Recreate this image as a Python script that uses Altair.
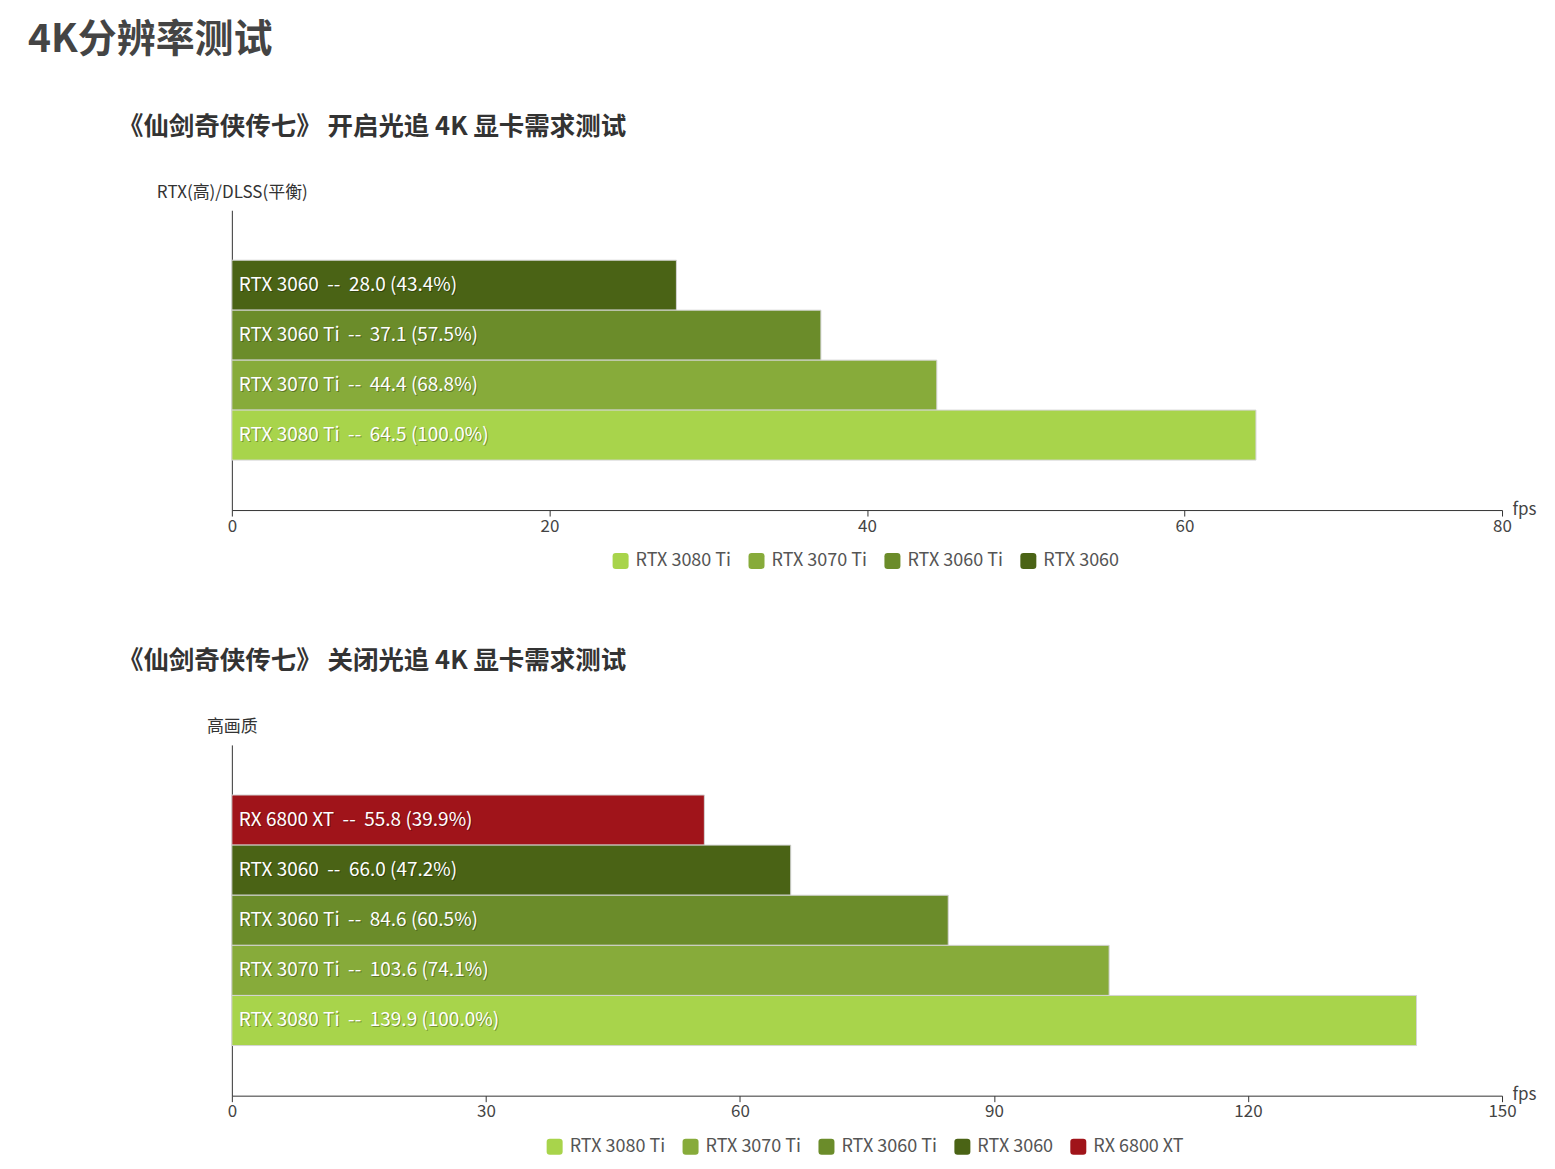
import altair as alt
import pandas as pd

# 开启光追 (RTX on, DLSS balanced), top to bottom
gpus_rt = ["RTX 3060", "RTX 3060 Ti", "RTX 3070 Ti", "RTX 3080 Ti"]
fps_rt = [28.0, 37.1, 44.4, 64.5]

# 关闭光追 (high quality), top to bottom
gpus_raster = ["RX 6800 XT", "RTX 3060", "RTX 3060 Ti", "RTX 3070 Ti", "RTX 3080 Ti"]
fps_raster = [55.8, 66.0, 84.6, 103.6, 139.9]

legend_order = ["RTX 3080 Ti", "RTX 3070 Ti", "RTX 3060 Ti", "RTX 3060", "RX 6800 XT"]
legend_colors = ["#a8d44b", "#87ab3a", "#6b8c2a", "#4a6315", "#a0141a"]

ticks_rt = [0, 20, 40, 60, 80]
ticks_raster = [0, 30, 60, 90, 120, 150]

FONT = "Noto Sans CJK SC"
ROUNDED = "M-1,-0.6Q-1,-1,-0.6,-1L0.6,-1Q1,-1,1,-0.6L1,0.6Q1,1,0.6,1L-0.6,1Q-1,1,-1,0.6Z"
W = 1271
SP = "\u00a0\u00a0"  # svg collapses plain spaces


def make_df(gpus, fps):
    df = pd.DataFrame({"gpu": gpus, "fps": fps})
    top = df["fps"].max()
    df["label"] = [f"{g}{SP}--{SP}{v:.1f} ({v / top * 100:.1f}%)" for g, v in zip(gpus, fps)]
    return df


def bar_panel(df, title, y_title, ticks, height, legend_x):
    present = [g for g in legend_order if g in list(df["gpu"])]
    colors = [legend_colors[legend_order.index(g)] for g in present]
    base = alt.Chart(df).encode(
        y=alt.Y("gpu:N", sort=list(df["gpu"]),
                scale=alt.Scale(paddingInner=0, paddingOuter=1),
                axis=alt.Axis(title=y_title, labels=False, ticks=False,
                              domainColor="#333", titleAngle=0, titleX=0, titleY=-18,
                              titleAlign="center", titleBaseline="middle",
                              titleFontSize=17, titleFontWeight="normal",
                              titleColor="#333", titleFont=FONT))
    )
    bars = base.mark_bar(stroke="#d4d4d4", strokeWidth=1).encode(
        x=alt.X("fps:Q", scale=alt.Scale(domain=[ticks[0], ticks[-1]], nice=False),
                axis=alt.Axis(values=ticks, title="fps", grid=False, labelFlush=False,
                              domainColor="#333", tickColor="#333", tickSize=6,
                              labelFontSize=17, labelColor="#444", labelPadding=2,
                              labelFont=FONT, titleFont=FONT,
                              titleX=W + 10, titleY=-1, titleAlign="left",
                              titleBaseline="middle", titleFontSize=17,
                              titleFontWeight="normal", titleColor="#444")),
        color=alt.Color("gpu:N", scale=alt.Scale(domain=present, range=colors),
                        legend=alt.Legend(title=None, orient="none", direction="horizontal",
                                          legendX=legend_x, legendY=height + 42,
                                          symbolType=ROUNDED, symbolSize=256,
                                          symbolStrokeWidth=0, labelFontSize=18,
                                          labelColor="#555", labelFont=FONT,
                                          columnPadding=16, labelOffset=6)),
    )
    shadow = base.mark_text(align="left", dx=8, dy=1, color="#000", opacity=0.3,
                            fontSize=19, font=FONT).encode(x=alt.datum(0), text="label:N")
    labels = base.mark_text(align="left", dx=7, color="white", fontSize=19, font=FONT).encode(
        x=alt.datum(0), text="label:N"
    )
    return alt.layer(bars, shadow, labels).properties(
        width=W, height=height,
        title=alt.TitleParams(title, anchor="start", frame="group", dx=-114, offset=43,
                              fontSize=25.5, fontWeight="bold", color="#333", font=FONT),
    )


top_panel = bar_panel(make_df(gpus_rt, fps_rt),
                      "《仙剑奇侠传七》 开启光追 4K 显卡需求测试",
                      "RTX(高)/DLSS(平衡)", ticks_rt, 300, 380)
bottom_panel = bar_panel(make_df(gpus_raster, fps_raster),
                         "《仙剑奇侠传七》 关闭光追 4K 显卡需求测试",
                         "高画质", ticks_raster, 351, 314)

chart = alt.vconcat(top_panel, bottom_panel, spacing=79).resolve_scale(
    color="independent", x="independent", y="independent"
).properties(
    title=alt.TitleParams("4K分辨率测试", anchor="start", frame="bounds", dx=-90, offset=55,
                          fontSize=39, fontWeight="bold", color="#444", font=FONT),
    padding={"left": 20, "top": 12, "right": 10, "bottom": 5},
).configure(font=FONT).configure_view(stroke=None)

chart.save("out.html", embed_options={"renderer": "svg", "actions": False})
